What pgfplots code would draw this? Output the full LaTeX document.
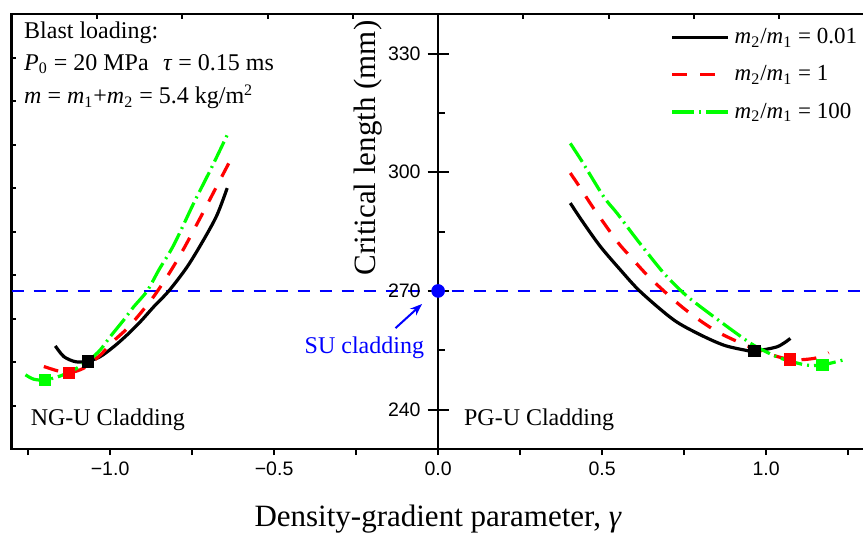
\documentclass[border=0pt]{standalone}
\usepackage{fontspec}
\setmainfont{Liberation Serif}
\newfontfamily\arialfont{Liberation Sans}
\usepackage{pgfplots}
\pgfplotsset{compat=1.18}
\usetikzlibrary{arrows.meta}

\definecolor{cgreen}{RGB}{0,255,0}
\definecolor{cred}{RGB}{255,0,0}
\definecolor{cblue}{RGB}{0,0,255}

\pgfplotsset{
  base/.style={
    scale only axis, width=426.4pt, height=217.6pt,
    xmin=-1.3, xmax=1.3, ymin=230, ymax=340,
  },
  ticknum/.style={font=\arialfont\fontsize{9.75}{10}\selectfont},
}
\newcommand{\ratio}[1]{\textit{m}\textsubscript{2}/\textit{m}\textsubscript{1} = #1}

\begin{document}
\begin{tikzpicture}
\begin{axis}[base,
  axis line style={line width=1.2pt},
  xtick={-1,-0.5,0,0.5,1},
  xticklabels={−1.0,−0.5,0.0,0.5,1.0},
  minor xtick={-1.25,-0.75,-0.25,0.25,0.75,1.25},
  xtick pos=bottom, tick align=outside,
  major tick length=3pt, minor tick length=3pt,
  tick style={black, line width=1pt},
  ytick=\empty,
  xticklabel style={ticknum},
  /pgf/number format/assume math mode=true,
  xlabel={Density-gradient parameter, \textit{γ}},
  every axis x label/.style={at={(rel axis cs:0.5,0)}, anchor=center, yshift=-35pt,
    font=\fontsize{15.5}{16}\selectfont},
  legend style={draw=none, fill=none, at={(rel axis cs:0.772,0.975)}, anchor=north west,
    font=\fontsize{11.5}{12}\selectfont, row sep=6.5pt, column sep=1pt, inner sep=0pt,
    nodes={inner sep=1.5pt}},
  legend cell align=left,
  legend image code/.code={\draw[#1] (0pt,0pt) -- (28pt,0pt);},
]
\coordinate (LL) at (rel axis cs:0,0);
\coordinate (UR) at (rel axis cs:1,1);

% SU reference level
\addplot[cblue, line width=1.3pt, dash pattern=on 6pt off 5pt, forget plot]
  coordinates {(-1.3,270) (1.3,270)};

% NG-U branch (gamma < 0)
\addplot[black, line width=1.6pt, smooth] coordinates {
  (-1.167,256.1) (-1.141,253.4) (-1.105,252.1) (-1.068,252.2) (-1.030,253.4)
  (-0.989,255.9) (-0.948,258.9) (-0.908,262.2) (-0.867,266.0) (-0.821,270.0)
  (-0.765,276.1) (-0.715,282.9) (-0.674,289.2) (-0.643,296.0)};
\addplot[cred, line width=1.6pt, dash pattern=on 7.5pt off 6.5pt, smooth] coordinates {
  (-1.202,250.9) (-1.160,249.8) (-1.126,249.3) (-1.080,250.5) (-1.030,253.8)
  (-0.994,257.0) (-0.948,260.5) (-0.907,264.4) (-0.867,268.6) (-0.831,273.0)
  (-0.801,277.0) (-0.770,281.5) (-0.725,288.5) (-0.684,295.0) (-0.638,302.3)};
\addplot[cgreen, line width=1.6pt, dash pattern=on 11pt off 2.5pt on 1pt off 2.5pt, smooth] coordinates {
  (-1.258,248.8) (-1.233,247.7) (-1.199,247.5) (-1.152,248.5) (-1.101,250.5)
  (-1.060,252.8) (-1.030,255.1) (-0.999,258.5) (-0.960,262.5) (-0.928,266.0)
  (-0.887,270.0) (-0.850,275.5) (-0.806,281.6) (-0.745,292.2) (-0.694,300.6)
  (-0.643,309.4)};
\legend{\ratio{0.01},\ratio{1},\ratio{100}}

% PG-U branch (gamma > 0)
\addplot[black, line width=1.6pt, smooth, forget plot] coordinates {
  (0.403,292.2) (0.444,287.1) (0.495,281.2) (0.556,275.3) (0.617,269.8)
  (0.718,262.7) (0.800,258.9) (0.871,256.3) (0.932,255.1) (0.964,254.8)
  (1.034,255.9) (1.074,258.0)};
\addplot[cred, line width=1.6pt, dash pattern=on 7.5pt off 6.5pt, smooth, forget plot] coordinates {
  (0.403,299.8) (0.434,296.0) (0.474,290.9) (0.546,282.5) (0.586,278.7)
  (0.647,273.2) (0.749,265.6) (0.851,259.7) (0.973,255.1) (1.072,252.7)
  (1.150,253.0) (1.191,254.4)};
\addplot[cgreen, line width=1.6pt, dash pattern=on 11pt off 2.5pt on 1pt off 2.5pt, smooth, forget plot] coordinates {
  (0.403,307.3) (0.439,302.7) (0.505,293.8) (0.546,289.6) (0.607,282.9)
  (0.688,274.5) (0.749,269.4) (0.800,266.0) (0.881,261.0) (0.952,256.8)
  (0.993,254.9) (1.044,253.0) (1.120,251.3) (1.171,251.3) (1.242,252.7)};

% minima
\addplot[only marks, mark=square*, mark size=2.9pt, black, forget plot]
  coordinates {(-1.068,252.2) (0.964,254.8)};
\addplot[only marks, mark=square*, mark size=2.9pt, cred, forget plot]
  coordinates {(-1.126,249.3) (1.072,252.7)};
\addplot[only marks, mark=square*, mark size=2.9pt, cgreen, forget plot]
  coordinates {(-1.199,247.5) (1.171,251.3)};

% small ticks on left and top edges
\pgfplotsinvokeforeach{1,...,9}{\draw[line width=1pt] (rel axis cs:0,0.#1) -- ++(2pt,0pt);}
\pgfplotsinvokeforeach{-1.04,-0.78,-0.52,-0.26,0.26,0.52,0.78,1.04}{\draw[line width=1pt] (axis cs:#1,340) -- ++(0pt,-2.5pt);}

\begin{scope}[font=\fontsize{12}{14}\selectfont]
\node[anchor=base west, inner sep=0pt] at (axis cs:-1.263,333.9) {Blast loading:};
\node[anchor=base west, inner sep=0pt] at (axis cs:-1.263,325.8)
  {\textit{P}\textsubscript{0} = 20 MPa\hspace{0.6em}\textit{τ} = 0.15 ms};
\node[anchor=base west, inner sep=0pt] at (axis cs:-1.263,317.3)
  {\textit{m} = \textit{m}\textsubscript{1}+\textit{m}\textsubscript{2} = 5.4 kg/m\textsuperscript{2}};
\node[anchor=base west, inner sep=0pt] at (axis cs:-1.243,235.9) {NG-U Cladding};
\node[anchor=base west, inner sep=0pt] at (axis cs:0.078,235.9) {PG-U Cladding};
\end{scope}
\end{axis}

\begin{axis}[base,
  axis x line=none, axis y line=middle,
  axis line style={line width=1.2pt, -},
  ytick={240,270,300,330}, minor ytick={255,285,315},
  tick align=center,
  major tick length=10.5pt, minor tick length=3.5pt,
  tick style={black, line width=1pt},
  minor y tick style={xshift=1.75pt},
  yticklabel style={ticknum},
  /pgf/number format/assume math mode=true,
  ylabel={Critical length (mm)},
  every axis y label/.style={at={(rel axis cs:0.418,0.692)}, rotate=90, anchor=center,
    font=\fontsize{15.5}{16}\selectfont},
]
\addplot[only marks, mark=*, mark size=3.2pt, cblue] coordinates {(0,270)};
\draw[cblue, line width=1pt, -{Stealth[length=6pt,width=4.5pt]}]
  (axis cs:-0.130,260.6) -- (axis cs:-0.049,266.7);
\node[anchor=base west, inner sep=0pt, text=cblue, font=\fontsize{12}{14}\selectfont]
  at (axis cs:-0.408,254.2) {SU cladding};
\end{axis}

\pgfresetboundingbox
\path[use as bounding box] ([shift={(-5.85pt,-43.4pt)}]LL) rectangle ([shift={(-0.75pt,7pt)}]UR);
\end{tikzpicture}
\end{document}
